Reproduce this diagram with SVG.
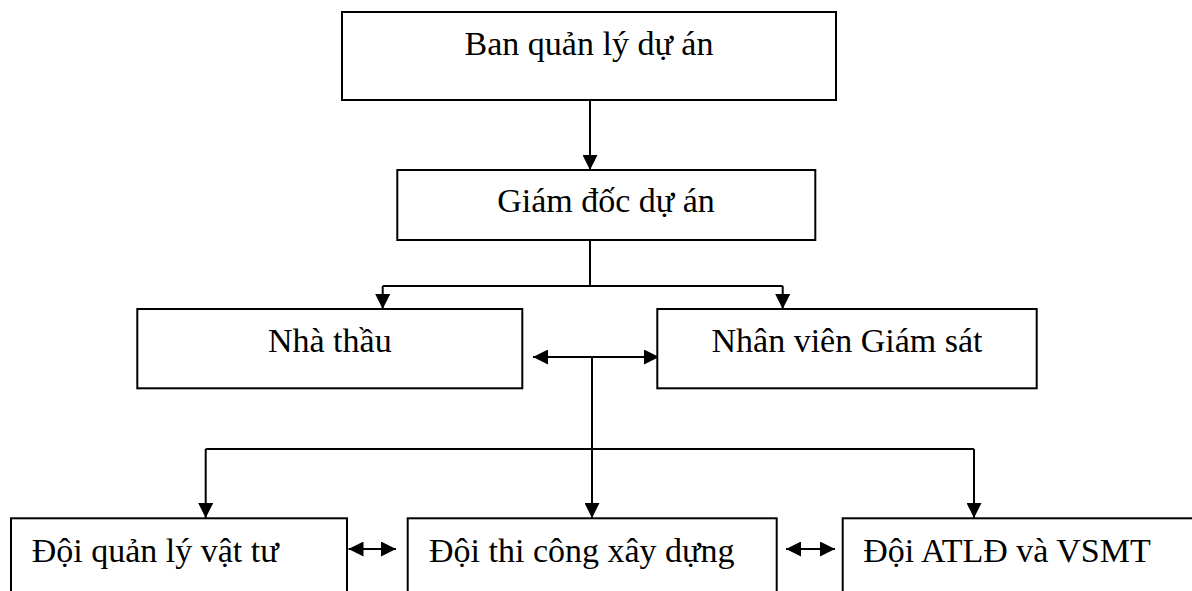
<svg xmlns="http://www.w3.org/2000/svg" width="1192" height="591" viewBox="0 0 1192 591">
  <style>
    .box { fill: #ffffff; stroke: #000000; stroke-width: 2; }
    .lbl { font-family: "Liberation Serif", "Times New Roman", serif; font-size: 34px; fill: #000000; }
    .c { text-anchor: middle; }
    .ln { fill: none; stroke: #000000; stroke-width: 2; }
    .ar { marker-end: url(#ah); }
    .dar { marker-start: url(#ah); marker-end: url(#ah); }
  </style>
  <defs>
    <marker id="ah" markerUnits="userSpaceOnUse" markerWidth="15" markerHeight="15" refX="15" refY="7.5" orient="auto-start-reverse">
      <path d="M0,0 L15,7.5 L0,15 z" fill="#000000"/>
    </marker>
  </defs>
  <rect width="1192" height="591" fill="#ffffff"/>

  <g id="connectors">
    <line class="ln ar" x1="590" y1="100" x2="590" y2="170"/>
    <line class="ln" x1="590" y1="240" x2="590" y2="286"/>
    <line class="ln" x1="382.7" y1="286" x2="782.7" y2="286"/>
    <line class="ln ar" x1="382.7" y1="286" x2="382.7" y2="309"/>
    <line class="ln ar" x1="782.7" y1="286" x2="782.7" y2="309"/>
    <line class="ln dar" x1="533" y1="357" x2="659" y2="357"/>
    <line class="ln" x1="592" y1="357" x2="592" y2="449"/>
    <line class="ln" x1="205.7" y1="449" x2="974" y2="449"/>
    <line class="ln ar" x1="205.7" y1="449" x2="205.7" y2="518"/>
    <line class="ln ar" x1="592" y1="449" x2="592" y2="518"/>
    <line class="ln ar" x1="974" y1="449" x2="974" y2="518"/>
    <line class="ln dar" x1="348.5" y1="549" x2="396" y2="549"/>
    <line class="ln dar" x1="786" y1="549" x2="835" y2="549"/>
  </g>

  <g id="ban-quan-ly">
    <rect class="box" x="342" y="12" width="494" height="88"/>
    <text class="lbl c" x="589" y="55">Ban quản lý dự án</text>
  </g>
  <g id="giam-doc">
    <rect class="box" x="397.3" y="170" width="418" height="70"/>
    <text class="lbl c" x="606" y="212">Giám đốc dự án</text>
  </g>
  <g id="nha-thau">
    <rect class="box" x="137.3" y="309" width="385" height="79.3"/>
    <text class="lbl c" x="329.8" y="352">Nhà thầu</text>
  </g>
  <g id="nhan-vien">
    <rect class="box" x="657.3" y="309" width="379.4" height="79.3"/>
    <text class="lbl c" x="847" y="352">Nhân viên Giám sát</text>
  </g>
  <g id="doi-vat-tu">
    <rect class="box" x="11" y="518.3" width="336" height="110"/>
    <text class="lbl" x="31.7" y="562">Đội quản lý vật tư</text>
  </g>
  <g id="doi-thi-cong">
    <rect class="box" x="407.7" y="518.3" width="369" height="110"/>
    <text class="lbl" x="429" y="562">Đội thi công xây dựng</text>
  </g>
  <g id="doi-atld">
    <rect class="box" x="842.7" y="518.3" width="380" height="110"/>
    <text class="lbl" x="863.3" y="562">Đội ATLĐ và VSMT</text>
  </g>
</svg>
